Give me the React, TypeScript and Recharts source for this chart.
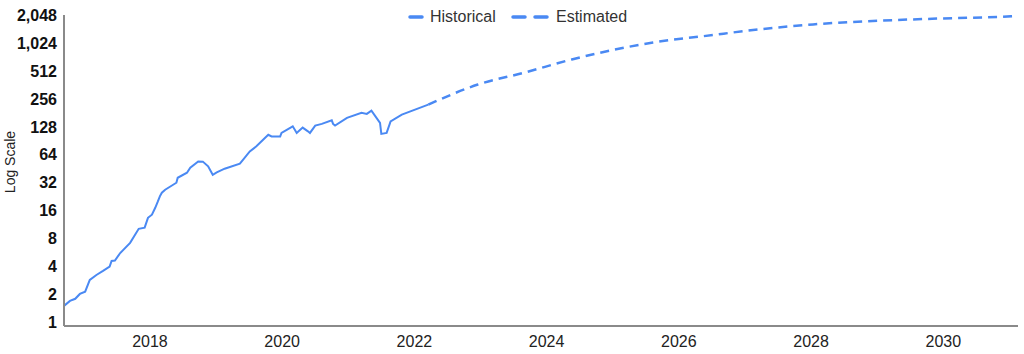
import { Line, LineChart, XAxis, YAxis } from "recharts";

// historical series (decimal year, value)
const histYears = [
  2016.7, 2016.79, 2016.87, 2016.94, 2017.02, 2017.09, 2017.19, 2017.29, 2017.39, 2017.42,
  2017.47, 2017.55, 2017.7, 2017.83, 2017.92, 2017.97, 2018.03, 2018.08, 2018.12, 2018.15,
  2018.18, 2018.23, 2018.4, 2018.42, 2018.56, 2018.61, 2018.73, 2018.8, 2018.88, 2018.95,
  2019.01, 2019.13, 2019.36, 2019.41, 2019.51, 2019.61, 2019.79, 2019.84, 2019.97, 2019.99,
  2020.16, 2020.22, 2020.31, 2020.39, 2020.42, 2020.5, 2020.6, 2020.75, 2020.77, 2020.8,
  2020.98, 2021.2, 2021.28, 2021.35, 2021.48, 2021.5, 2021.58, 2021.64, 2021.81, 2022.21,
];
const histValues = [
  1.51, 1.71, 1.8, 2.03, 2.15, 2.87, 3.25, 3.59, 4.0, 4.6,
  4.65, 5.6, 7.2, 10.2, 10.5, 13.4, 14.5, 17.2, 20.1, 22.8,
  25.0, 26.9, 32, 36.2, 41, 46.5, 54.3, 54.0, 48, 39,
  41.3, 45.3, 51.3, 56.7, 69.6, 78.9, 105, 101, 101, 110,
  129.6, 110, 125.5, 114.5, 110, 132, 137.6, 150.4, 137.6, 132,
  159.7, 180.8, 176.3, 191.4, 141, 107.3, 110, 146.7, 173.3, 222,
];

// estimated series
const estYears = [2022.21, 2022.96, 2023.67, 2024.38, 2025.19, 2025.61, 2026.59, 2026.82, 2028.03, 2029.24, 2030.0, 2031.06, 2031.13];
const estValues = [222, 365, 492, 680, 916, 1037, 1265, 1329, 1621, 1804, 1882, 1993, 2030];

const yTicks = [1, 2, 4, 8, 16, 32, 64, 128, 256, 512, 1024, 2048];
const xTicks = [2018, 2020, 2022, 2024, 2026, 2028, 2030];

const historical = histYears.map((t, i) => ({ t, v: histValues[i] }));
const estimated = estYears.map((t, i) => ({ t, v: estValues[i] }));

const FONT = "'Liberation Sans', Arial, sans-serif";
const BLUE = "#4a89f3";

function LegendOverlay() {
  const text = { position: "absolute" as const, top: 8, fontSize: 16, color: "#333", fontFamily: FONT, lineHeight: "18px" };
  return (
    <>
      <svg style={{ position: "absolute", left: 408, top: 11 }} width={16} height={12}>
        <line x1={2} y1={6} x2={14} y2={6} stroke={BLUE} strokeWidth={3.5} strokeLinecap="round" />
      </svg>
      <div style={{ ...text, left: 430 }}>Historical</div>
      <svg style={{ position: "absolute", left: 511, top: 11 }} width={38} height={12}>
        <line x1={2} y1={6} x2={14} y2={6} stroke={BLUE} strokeWidth={3.5} strokeLinecap="round" />
        <line x1={24} y1={6} x2={36} y2={6} stroke={BLUE} strokeWidth={3.5} strokeLinecap="round" />
      </svg>
      <div style={{ ...text, left: 556 }}>Estimated</div>
    </>
  );
}

export default function App() {
  return (
    <div style={{ position: "absolute", left: 0, top: 0, width: 1024, height: 354, background: "#fff" }}>
      <LineChart width={1024} height={354} margin={{ top: 15, right: 6, bottom: 0, left: 0 }}>
        <XAxis
          type="number"
          dataKey="t"
          domain={[2016.7, 2031.13]}
          allowDataOverflow
          ticks={xTicks}
          interval={0}
          height={28}
          tickLine={false}
          tickSize={0}
          tickMargin={10}
          axisLine={{ stroke: "#8a8a8a", strokeWidth: 2 }}
          tick={{ fontSize: 16, fill: "#222", fontFamily: FONT }}
        />
        <YAxis
          scale="log"
          domain={[0.917, 2048]}
          allowDataOverflow
          ticks={yTicks}
          interval={0}
          width={64}
          tickLine={false}
          tickSize={0}
          tickMargin={7}
          axisLine={{ stroke: "#8a8a8a", strokeWidth: 2 }}
          tickFormatter={(v: number) => v.toLocaleString("en-US")}
          tick={{ fontSize: 16, fill: "#111", fontWeight: "bold", fontFamily: FONT }}
          label={{
            content: () => (
              <text
                x={10}
                y={162}
                transform="rotate(-90 10 162)"
                textAnchor="middle"
                dominantBaseline="central"
                fontSize={14}
                fill="#222"
                fontFamily={FONT}
              >
                Log Scale
              </text>
            ),
          }}
        />
        <Line
          data={historical}
          dataKey="v"
          type="linear"
          stroke={BLUE}
          strokeWidth={2}
          dot={false}
          activeDot={false}
          isAnimationActive={false}
        />
        <Line
          data={estimated}
          dataKey="v"
          type="monotone"
          stroke={BLUE}
          strokeWidth={2.5}
          strokeDasharray="9 6"
          dot={false}
          activeDot={false}
          isAnimationActive={false}
        />
      </LineChart>
      <LegendOverlay />
    </div>
  );
}
